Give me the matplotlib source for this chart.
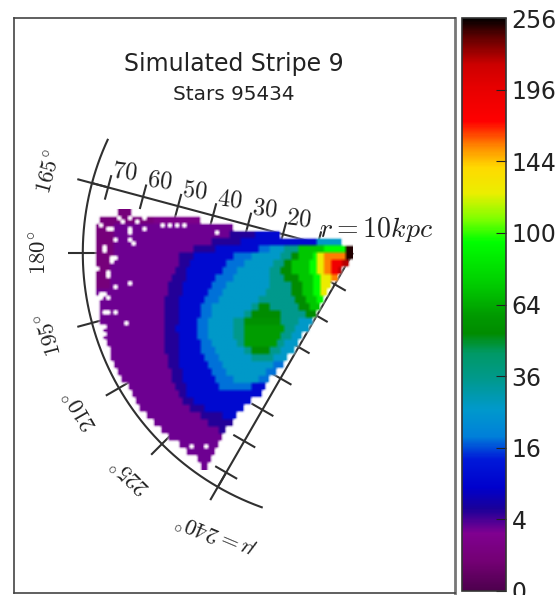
import numpy as np
import matplotlib
matplotlib.use("Agg")
import matplotlib.pyplot as plt
from matplotlib.colors import LinearSegmentedColormap, PowerNorm

plt.rcParams["mathtext.fontset"] = "cm"

title = "Simulated Stripe 9"
subtitle = "Stars 95434"
cbar_ticks = [0, 4, 16, 36, 64, 100, 144, 196, 256]
r_ticks = [10, 20, 30, 40, 50, 60, 70]
r_labels = ["20", "30", "40", "50", "60", "70"]
mu_ticks = [165, 180, 195, 210, 225, 240]
mu_labels = [r"$165^{\circ}$", r"$180^{\circ}$", r"$195^{\circ}$", r"$210^{\circ}$", r"$225^{\circ}$"]

# Histogram: one entry per 2 kpc row, distance from the apex (kpc)
row_y = [11, 9, 7, 5, 3, 1, -1, -3, -5, -7, -9, -11, -13, -15, -17, -19, -21, -23, -25, -27,
         -29, -31, -33, -35, -37, -39, -41, -43, -45, -47, -49, -51, -53, -55, -57, -59]
row_edges = [
    [65, 61], [70, 55, 42], [71, 66, 33], [71, 66, 34, 27, 20],
    [71, 66, 39, 31, 10, 3],
    [71, 66, 44, 38, 26, 23, 19, 15, 8, 2, 0],
    [71, 66, 48, 44, 33, 28, 20, 17, 15, 11, 10, 8, 2, 0],
    [71, 67, 48, 45, 35, 30, 22, 19, 17, 12, 10, 8, 6, 3, 1],
    [71, 67, 49, 46, 36, 32, 23, 20, 17, 12, 10, 8, 6, 4, 3],
    [71, 67, 50, 46, 38, 33, 23, 19, 15, 11, 9, 6, 4],
    [71, 67, 51, 47, 39, 35, 23, 17, 14, 11, 9, 6],
    [71, 51, 47, 40, 36, 24, 17, 14, 11, 9, 7],
    [70, 52, 48, 41, 37, 26, 16, 13, 10, 8],
    [70, 52, 48, 42, 39, 28, 26, 23, 15, 12, 9],
    [70, 52, 48, 42, 39, 30, 28, 20, 13, 10],
    [70, 52, 48, 43, 40, 33, 30, 20, 15, 11],
    [69, 52, 49, 43, 40, 33, 30, 19, 16, 12],
    [69, 52, 48, 43, 40, 33, 30, 20, 17, 14],
    [68, 52, 48, 42, 39, 32, 30, 21, 19, 15],
    [67, 52, 48, 42, 38, 30, 28, 23, 20, 16],
    [67, 51, 48, 41, 37, 28, 22, 18],
    [66, 51, 48, 40, 36, 22, 19],
    [65, 50, 47, 39, 35, 24, 21],
    [64, 50, 47, 38, 33, 26, 23],
    [62, 49, 46, 37, 28, 24],
    [61, 48, 46, 25],
    [60, 47, 44, 28],
    [59, 45, 41, 30],
    [57, 42, 36, 32],
    [55, 40, 33],
    [53, 37, 35],
    [51, 36], [48, 37], [46, 38], [43, 39], [42, 40],
]
row_counts = [
    [1], [1, 2], [1, 3], [1, 3, 5, 10],
    [1, 3, 5, 10, 26],
    [1, 3, 5, 10, 18, 26, 35, 72, 95, 250],
    [1, 3, 5, 10, 18, 26, 35, 52, 72, 95, 125, 155, 250],
    [1, 3, 5, 10, 18, 26, 35, 52, 72, 95, 125, 155, 185, 221],
    [1, 3, 5, 10, 18, 26, 35, 52, 72, 95, 125, 155, 185, 221],
    [1, 3, 5, 10, 18, 26, 35, 52, 72, 95, 125, 155],
    [1, 3, 5, 10, 18, 26, 35, 52, 72, 95, 125],
    [3, 5, 10, 18, 26, 35, 52, 72, 95, 125],
    [3, 5, 10, 18, 26, 35, 52, 72, 95],
    [3, 5, 10, 18, 26, 35, 52, 35, 52, 72],
    [3, 5, 10, 18, 26, 35, 52, 35, 52],
    [3, 5, 10, 18, 26, 35, 55, 35, 26],
    [3, 5, 10, 18, 26, 35, 60, 35, 26],
    [3, 5, 10, 18, 26, 35, 60, 35, 26],
    [3, 5, 10, 18, 26, 35, 60, 35, 26],
    [3, 5, 10, 18, 26, 35, 52, 35, 26],
    [3, 5, 10, 18, 26, 35, 26],
    [3, 5, 10, 18, 26, 18],
    [3, 5, 10, 18, 26, 18],
    [3, 5, 10, 18, 26, 18],
    [3, 5, 10, 18, 10],
    [3, 5, 10],
    [3, 5, 10],
    [3, 5, 10],
    [3, 5, 10],
    [3, 5],
    [3, 5],
    [3], [3], [3], [3], [3],
]
# Empty 1 kpc cells inside the wedge: distance from apex, y of cell bottom
empty_d = [70, 69, 66, 67, 65, 61, 60, 68, 68, 65, 66, 66, 71, 71, 70, 71, 67, 67, 71, 65, 61,
           69, 68, 69, 67, 68, 67, 65, 62, 68, 68, 61, 61, 57, 52, 50, 48, 46, 64, 63, 59, 61,
           57, 37, 44, 40]
empty_y = [9, 7, 6, 6, 3, 3, 2, 1, 0, -2, -2, -3, -2, -3, -5, -5, -6, -7, -7, -10, -9,
           -12, -12, -13, -13, -17, -17, -17, -20, -21, -23, 6, 5, 6, 7, 7, 7, 7, 9, 8, 8, 9,
           9, 5, -54, -54]

cmap_pos = [0, .05, .10, .143, .18, .23, .27, .316, .37, .415, .45, .48, .535, .61, .65, .695,
            .74, .775, .82, .88, .92, .97, 1]
cmap_col = ["#4d004d", "#730073", "#800090", "#1a0099", "#0000cc", "#001ad9", "#0080d9", "#0099cc",
            "#00998c", "#009966", "#008c00", "#009900", "#00cc00", "#00ff00", "#80ff00", "#ebee00",
            "#ffd900", "#ff8c00", "#ff0000", "#e60000", "#cc0000", "#590000", "#000000"]
cmap = LinearSegmentedColormap.from_list("stripe", list(zip(cmap_pos, cmap_col)), N=512)
cmap.set_bad((1, 1, 1, 0))
norm = PowerNorm(0.5, vmin=0, vmax=256)

# Grid of counts
d_edges = np.arange(0, 73)
y_edges = np.arange(-60, 13)
Z = np.full((len(y_edges) - 1, len(d_edges) - 1), np.nan)
for y, edges, counts in zip(row_y, row_edges, row_counts):
    for k, c in enumerate(counts):
        Z[y - 1 + 60: y + 1 + 60, edges[k + 1]: edges[k]] = c
for d, y in zip(empty_d, empty_y):
    Z[y + 60, d] = np.nan

W, H = 558, 595
fig = plt.figure(figsize=(W / 100, H / 100), dpi=100)
ax = fig.add_axes([14 / W, 1 - 593 / H, (455 - 14) / W, (593 - 18) / H])

img = ax.imshow(np.ma.masked_invalid(Z[:, ::-1]), cmap=cmap, norm=norm, origin="lower",
                extent=(-72, 0, -60, 12), interpolation="bilinear", interpolation_stage="rgba",
                aspect="auto", zorder=3)
ax.set_xlim(-93.6, 28.2)
ax.set_ylim(-93.9, 64.9)
ax.set_xticks([])
ax.set_yticks([])
for s in ax.spines.values():
    s.set_color("#444444")
    s.set_linewidth(1.2)
ax.spines["right"].set_color("#777777")
ax.spines["right"].set_linewidth(2)

# Wedge grid
line_kw = dict(color="#303030", lw=1.5, zorder=2, solid_capstyle="butt")
r_out = 74.6
arc = np.radians(np.linspace(155, 250.5, 200))
ax.plot(r_out * np.cos(arc), r_out * np.sin(arc), **line_kw)
for m in (165, 240):
    a = np.radians(m)
    ax.plot([0, r_out * np.cos(a)], [0, r_out * np.sin(a)], **line_kw)
for m in mu_ticks:
    a = np.radians(m)
    ax.plot([(r_out - 4.4) * np.cos(a), (r_out + 4.2) * np.cos(a)],
            [(r_out - 4.4) * np.sin(a), (r_out + 4.2) * np.sin(a)], **line_kw)
for m in (165, 240):
    a = np.radians(m)
    nx, ny = -np.sin(a), np.cos(a)
    for r in r_ticks:
        cx, cy = r * np.cos(a), r * np.sin(a)
        ax.plot([cx - 3.5 * nx, cx + 3.5 * nx], [cy - 3.5 * ny, cy + 3.5 * ny], **line_kw)

# Labels
txt_c = "#222222"
a165 = np.radians(165)
for r, s in zip(r_ticks[1:], r_labels):
    ax.text(r * np.cos(a165) + 4.5, r * np.sin(a165) + 4.5, "$%s$" % s, fontsize=17.5, rotation=-7,
            ha="center", va="center", color=txt_c, zorder=4)
ax.text(6.4, 6.6, r"$r = 10 kpc$", fontsize=20, ha="center", va="center", color=txt_c, zorder=4)
for m, s in zip(mu_ticks, mu_labels):
    a = np.radians(m)
    ax.text(86.5 * np.cos(a), 86.5 * np.sin(a), s, fontsize=16.5, rotation=m - 90,
            ha="center", va="center", color=txt_c, zorder=4)
ax.text(-37.6, -77.3, r"$\mu = 240^{\circ}$", fontsize=16.5, rotation=157, ha="center", va="center",
        color=txt_c, zorder=4)

ax.text(-33, 52.2, title, fontsize=17, ha="center", va="center", color=txt_c)
ax.text(-33, 43.9, subtitle, fontsize=14.4, ha="center", va="center", color=txt_c)

# Colour bar
cax = fig.add_axes([462 / W, 1 - 591 / H, (506 - 462) / W, (591 - 18) / H])
cb = fig.colorbar(img, cax=cax, ticks=cbar_ticks, spacing="proportional")
cb.ax.set_yticklabels([str(t) for t in cbar_ticks], fontsize=17, color=txt_c)
cb.ax.tick_params(direction="in", length=7, width=0.8, pad=4, colors=txt_c)
cb.outline.set_linewidth(1.2)
cb.outline.set_edgecolor("#333333")

fig.savefig("out.png", dpi=100)
